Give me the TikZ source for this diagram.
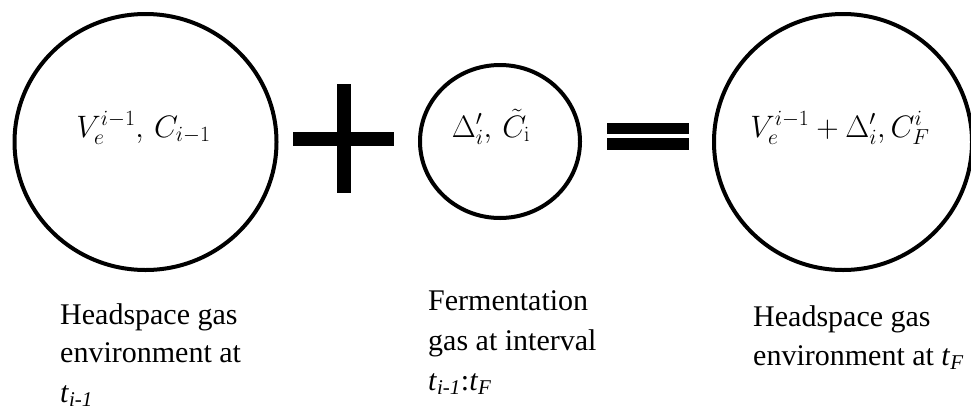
\RequirePackage{fix-cm}
\documentclass[tikz,border=0pt]{standalone}
\usepackage[no-math]{fontspec}
\setmainfont{Liberation Serif}
\usetikzlibrary{shapes.geometric}
\begin{document}
\begin{tikzpicture}[x=1pt,y=-1pt,
  ring/.style={draw=black,line width=4pt,ellipse,inner sep=0pt},
  mathlbl/.style={inner sep=0pt,font=\fontsize{31}{37}\selectfont},
  caption/.style={inner sep=0pt,align=left,font=\fontsize{30}{40}\selectfont},
  bar/.style={fill=black,draw=none}]
\useasboundingbox (0,0) rectangle (971,410);
% circles
\node[ring,minimum width=262pt,minimum height=256pt] (c1) at (145.5,142) {};
\node[ring,minimum width=160pt,minimum height=153pt] (c2) at (500,141.5) {};
\node[ring,minimum width=258pt,minimum height=256pt] (c3) at (843,142) {};
% math labels
\node[mathlbl,anchor=base] (m1) at (143.5,137) {$V_e^{i-1},\,C_{i-1}$};
\node[mathlbl,anchor=base] (m2) at (491,137) {$\Delta_i',\,\tilde C_{\mathrm{i}}$};
\node[mathlbl,anchor=base] (m3) at (840,137) {$V_e^{i-1}+\Delta_i',C_F^i$};
% plus sign
\fill[bar] (293,132) rectangle (394,146);
\fill[bar] (336.7,84) rectangle (350.7,193);
% equals sign
\fill[bar] (606.7,122.7) rectangle (689.3,134.3);
\fill[bar] (606.7,138.3) rectangle (689.3,150);
% captions (base anchor = last line)
\node[caption,anchor=base west] (t1) at (60,402) {Headspace gas\\[-2pt]environment at\\\textit{t}\textsubscript{\textit{i-1}}};
\node[caption,anchor=base west] (t2) at (428,390) {Fermentation\\gas at interval\\\textit{t}\textsubscript{\textit{i-1}}:\textit{t}\textsubscript{\textit{F}}};
\node[caption,anchor=base west] (t3) at (753,365) {Headspace gas\\[-1pt]environment at \textit{t}\textsubscript{\textit{F}}};
\end{tikzpicture}
\end{document}
